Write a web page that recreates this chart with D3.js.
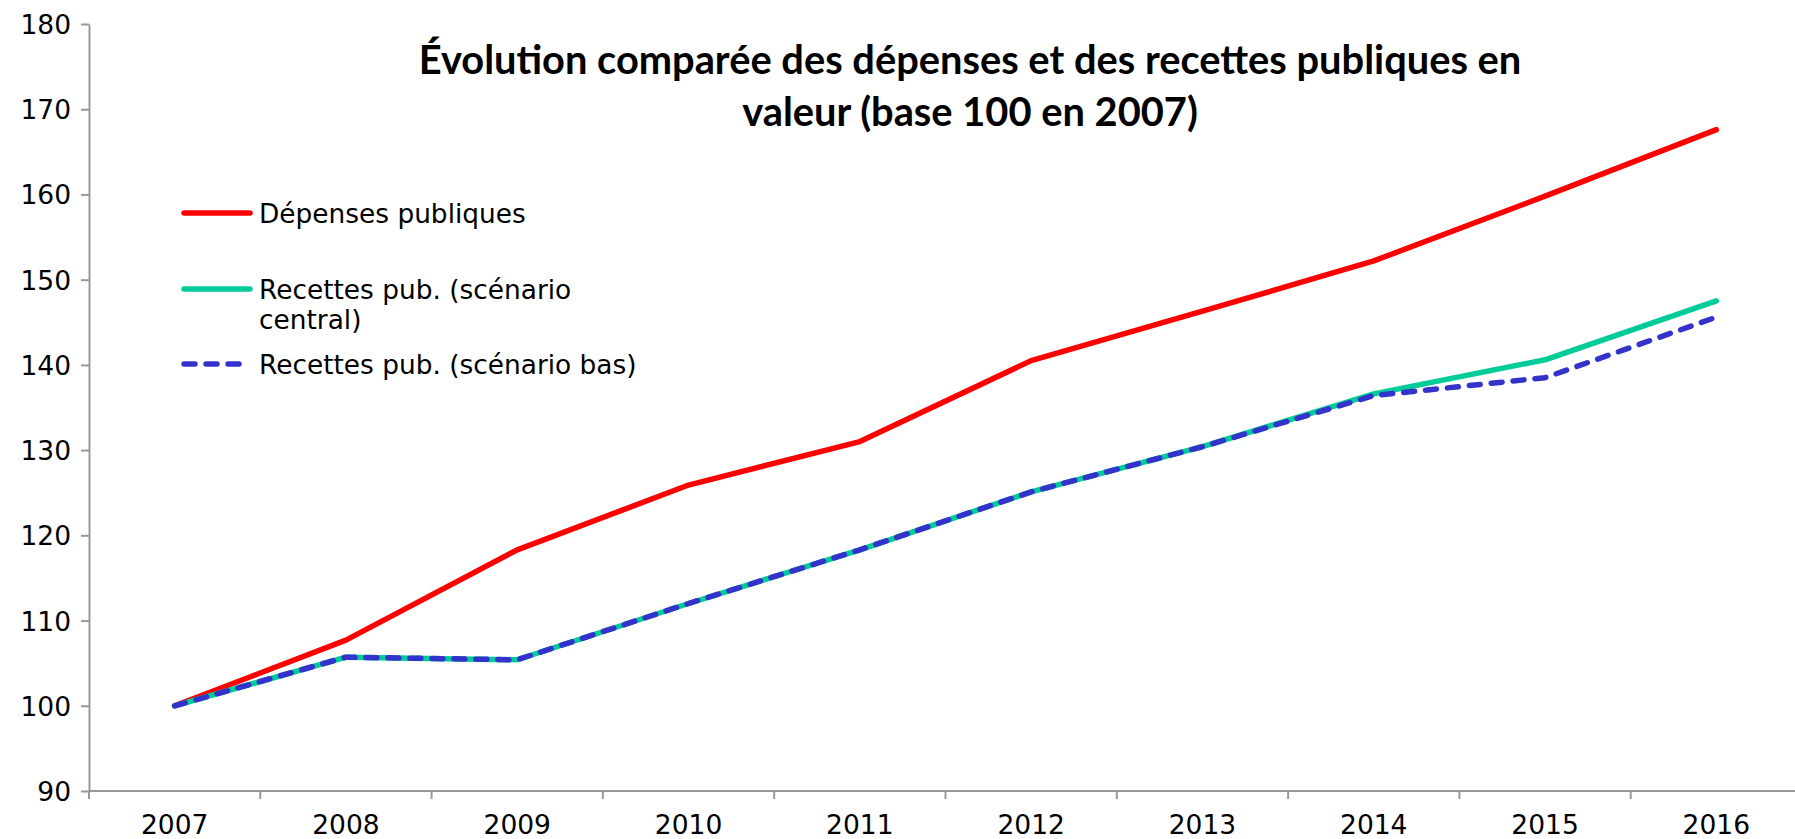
<!DOCTYPE html>
<html>
<head>
<meta charset="utf-8">
<script src="https://cdn.jsdelivr.net/npm/d3@7"></script>
<style>
  html, body { margin: 0; padding: 0; background: #fff; }
  svg { display: block; }
  .axis text { font-family: "DejaVu Sans", Verdana, sans-serif; font-size: 26.5px; fill: #000; }
  .axis path, .axis line { stroke: #999; stroke-width: 2; }
  .legend text { font-family: "DejaVu Sans", Verdana, sans-serif; font-size: 26.4px; fill: #000; }
  .title { font-family: Lato, "Open Sans", sans-serif; font-weight: bold; fill: #000; }
</style>
</head>
<body>
<div id="chart"></div>
<script>
// données (base 100 en 2007)
const years = ["2007", "2008", "2009", "2010", "2011", "2012", "2013", "2014", "2015", "2016"];
const depenses = [100, 107.7, 118.3, 125.9, 131.0, 140.5, 146.3, 152.2, 159.8, 167.6];
const recettesCentral = [100, 105.7, 105.4, 112.0, 118.3, 125.1, 130.4, 136.6, 140.6, 147.5];
const recettesBas = [100, 105.7, 105.4, 112.0, 118.3, 125.1, 130.4, 136.4, 138.5, 145.6];
const yTicks = [90, 100, 110, 120, 130, 140, 150, 160, 170, 180];

const titleLines = [
  "Évolution comparée des dépenses et des recettes publiques en",
  "valeur (base 100 en 2007)"
];

const width = 1795;
const height = 839;

const svg = d3
  .select("#chart")
  .append("svg")
  .attr("width", width)
  .attr("height", height);

// échelles : l'axe des x déborde un peu à droite comme sur l'original
const x = d3.scaleBand().domain(years).range([89, 1802]);
const y = d3.scaleLinear().domain([90, 180]).range([791, 24]);

// axe Y
svg
  .append("g")
  .attr("class", "axis")
  .attr("transform", "translate(89,0)")
  .call(d3.axisLeft(y).tickValues(yTicks).tickSize(8).tickPadding(10).tickSizeOuter(0))
  .call(g => g.selectAll("text").attr("dy", "0.36em"));

// axe X : graduations entre les catégories
const xAxis = svg
  .append("g")
  .attr("class", "axis")
  .attr("transform", "translate(0,791)");

xAxis
  .append("line")
  .attr("x1", 89)
  .attr("x2", 1802)
  .attr("y1", 0)
  .attr("y2", 0);

xAxis
  .selectAll(".tick-mark")
  .data(years)
  .join("line")
  .attr("class", "tick-mark")
  .attr("x1", d => x(d))
  .attr("x2", d => x(d))
  .attr("y1", 0)
  .attr("y2", 8);

xAxis
  .selectAll(".tick-label")
  .data(years)
  .join("text")
  .attr("class", "tick-label")
  .attr("x", d => x(d) + x.bandwidth() / 2)
  .attr("y", 43)
  .attr("text-anchor", "middle")
  .text(d => d);

// séries
const cx = d => x(d) + x.bandwidth() / 2;
const line = d3
  .line()
  .x((d, i) => cx(years[i]))
  .y(d => y(d));

svg
  .append("path")
  .datum(depenses)
  .attr("d", line)
  .attr("fill", "none")
  .attr("stroke", "#ff0000")
  .attr("stroke-width", 5.5)
  .attr("stroke-linejoin", "round")
  .attr("stroke-linecap", "round");

svg
  .append("path")
  .datum(recettesCentral)
  .attr("d", line)
  .attr("fill", "none")
  .attr("stroke", "#00cc99")
  .attr("stroke-width", 5.5)
  .attr("stroke-linejoin", "round")
  .attr("stroke-linecap", "round");

svg
  .append("path")
  .datum(recettesBas)
  .attr("d", line)
  .attr("fill", "none")
  .attr("stroke", "#3333cc")
  .attr("stroke-width", 5.5)
  .attr("stroke-dasharray", "11 11")
  .attr("stroke-linejoin", "round")
  .attr("stroke-linecap", "round");

// titre
const title = svg
  .append("text")
  .attr("class", "title")
  .attr("text-anchor", "middle")
  .style("font-size", "33px");

title
  .selectAll("tspan")
  .data(titleLines)
  .join("tspan")
  .attr("x", 970)
  .attr("y", (d, i) => 74 + i * 52)
  .text(d => d);

// ajuste la taille pour retrouver la largeur de la première ligne
const firstLen = title.select("tspan").node().getComputedTextLength();
title.style("font-size", (33 * 1102 / firstLen).toFixed(1) + "px");

// légende
const legendItems = [
  { lines: ["Dépenses publiques"], color: "#ff0000", dash: null, y: 213 },
  { lines: ["Recettes pub. (scénario", "central)"], color: "#00cc99", dash: null, y: 289 },
  { lines: ["Recettes pub. (scénario bas)"], color: "#3333cc", dash: "11 11", y: 364 }
];

const legend = svg.append("g").attr("class", "legend");

legendItems.forEach(item => {
  legend
    .append("line")
    .attr("x1", 184)
    .attr("x2", item.dash ? 244 : 250)
    .attr("y1", item.y)
    .attr("y2", item.y)
    .attr("stroke", item.color)
    .attr("stroke-width", 5.5)
    .attr("stroke-linecap", "round")
    .attr("stroke-dasharray", item.dash);

  legend
    .append("text")
    .selectAll("tspan")
    .data(item.lines)
    .join("tspan")
    .attr("x", 259)
    .attr("y", (d, i) => item.y + 10 + i * 30)
    .text(d => d);
});
</script>
</body>
</html>
